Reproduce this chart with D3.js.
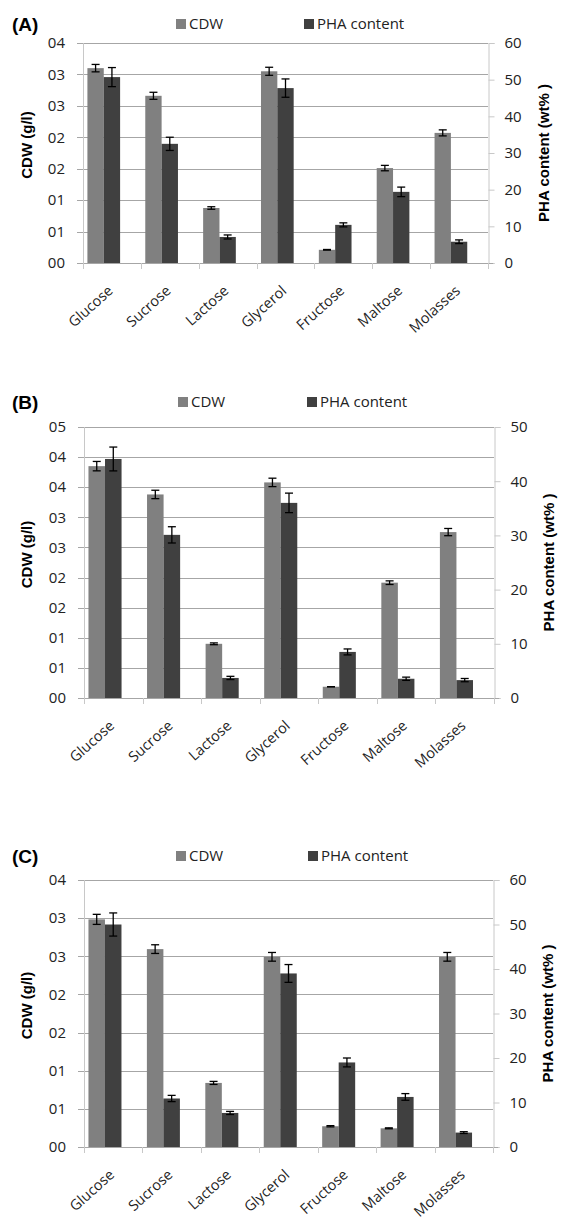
<!DOCTYPE html>
<html>
<head>
<meta charset="utf-8">
<script src="https://cdn.jsdelivr.net/npm/d3@7"></script>
<style>
  body { margin: 0; background: #fff; }
  svg { display: block; }
</style>
</head>
<body>
<script>
// categories (carbon sources)
var categories = ['Glucose', 'Sucrose', 'Lactose', 'Glycerol', 'Fructose', 'Maltose', 'Molasses'];
var seriesNames = ['CDW', 'PHA content'];

// panel A
var cdwA = [0.310, 0.266, 0.0875, 0.305, 0.021, 0.151, 0.207];
var cdwErrA = [0.0059, 0.0056, 0.002, 0.0064, 0.0005, 0.0043, 0.0048];
var phaA = [50.7, 32.5, 7.1, 47.7, 10.4, 19.4, 5.8];
var phaErrA = [2.6, 1.8, 0.55, 2.5, 0.55, 1.3, 0.5];
var leftTicksA = ['00', '01', '01', '02', '02', '03', '03', '04'];
var rightTicksA = [0, 10, 20, 30, 40, 50, 60];

// panel B
var cdwB = [0.385, 0.338, 0.09, 0.358, 0.0187, 0.1915, 0.2755];
var cdwErrB = [0.0078, 0.007, 0.0015, 0.007, 0, 0.003, 0.006];
var phaB = [44.1, 30.1, 3.7, 36.0, 8.5, 3.55, 3.3];
var phaErrB = [2.2, 1.5, 0.3, 1.8, 0.55, 0.3, 0.3];
var leftTicksB = ['00', '01', '01', '02', '02', '03', '03', '04', '04', '05'];
var rightTicksB = [0, 10, 20, 30, 40, 50];

// panel C
var cdwC = [0.2984, 0.2594, 0.084, 0.2493, 0.0272, 0.0245, 0.2493];
var cdwErrC = [0.0066, 0.0057, 0.002, 0.0057, 0.0008, 0.0006, 0.0057];
var phaC = [50.0, 10.9, 7.65, 39.0, 19.0, 11.25, 3.24];
var phaErrC = [2.6, 0.7, 0.35, 2.0, 1.0, 0.75, 0.2];
var leftTicksC = ['00', '01', '01', '02', '02', '03', '03', '04'];
var rightTicksC = [0, 10, 20, 30, 40, 50, 60];

var cdwStep = 0.05;
var colors = ['#808080', '#404040'];
var tickFont = '"Open Sans", sans-serif';

var svg = d3.select('body').append('svg')
    .attr('width', 563)
    .attr('height', 1224);

function drawPanel(p) {
    var g = svg.append('g');

    var x0 = d3.scaleBand().domain(categories).range([p.left, p.right]);
    // three slots per group, the third one is empty in the original sheet
    var x1 = d3.scaleBand().domain([0, 1, 2]).range([0, x0.bandwidth()]).paddingOuter(0.27);

    var yL = d3.scaleLinear()
        .domain([0, (p.leftTicks.length - 1) * cdwStep])
        .range([p.bottom, p.top]);
    var yR = d3.scaleLinear()
        .domain([0, d3.max(p.rightTicks)])
        .range([p.bottom, p.top]);

    var leftVals = p.leftTicks.map(function(d, i) { return i * cdwStep; });

    // gridlines + left ticks
    g.append('g')
        .selectAll('line')
        .data(leftVals)
        .join('line')
        .attr('x1', p.left - 6)
        .attr('x2', p.right)
        .attr('y1', function(d) { return Math.round(yL(d)) + 0.5; })
        .attr('y2', function(d) { return Math.round(yL(d)) + 0.5; })
        .attr('stroke', '#a6a6a6')
        .attr('stroke-width', 1);

    // left axis line
    g.append('line')
        .attr('x1', p.left + 0.5).attr('x2', p.left + 0.5)
        .attr('y1', p.top).attr('y2', p.bottom)
        .attr('stroke', '#c8c8c8');

    // right axis
    var rAxis = d3.axisRight(yR).tickValues(p.rightTicks).tickSize(6).tickPadding(10);
    var ra = g.append('g')
        .attr('transform', 'translate(' + (p.right + 0.5) + ',0)')
        .call(rAxis);
    ra.select('.domain').attr('stroke', '#c8c8c8');
    ra.selectAll('.tick line').attr('stroke', '#c8c8c8');
    ra.selectAll('.tick text')
        .attr('font-family', tickFont)
        .attr('font-size', 15)
        .attr('fill', '#222');

    // left tick labels
    g.append('g')
        .selectAll('text')
        .data(leftVals)
        .join('text')
        .attr('x', p.left - 18)
        .attr('y', function(d) { return yL(d); })
        .attr('dy', '0.35em')
        .attr('text-anchor', 'end')
        .attr('font-family', tickFont)
        .attr('font-size', 15)
        .attr('fill', '#222')
        .text(function(d, i) { return p.leftTicks[i]; });

    // bars
    var values = [p.cdw, p.pha];
    var errs = [p.cdwErr, p.phaErr];
    var scales = [yL, yR];

    seriesNames.forEach(function(s, si) {
        var sc = scales[si];
        g.append('g')
            .selectAll('rect')
            .data(categories)
            .join('rect')
            .attr('x', function(c) { return x0(c) + x1(si); })
            .attr('width', x1.bandwidth())
            .attr('y', function(c, i) { return sc(values[si][i]); })
            .attr('height', function(c, i) { return p.bottom - sc(values[si][i]); })
            .attr('fill', colors[si]);

        // error bars
        var eg = g.append('g').attr('stroke', '#000').attr('stroke-width', 1.3);
        categories.forEach(function(c, i) {
            var v = values[si][i], e = errs[si][i];
            var cx = x0(c) + x1(si) + x1.bandwidth() / 2;
            var y1 = sc(v + e), y2 = sc(v - e);
            eg.append('line').attr('x1', cx).attr('x2', cx).attr('y1', y1).attr('y2', y2);
            eg.append('line').attr('x1', cx - 4).attr('x2', cx + 4).attr('y1', y1).attr('y2', y1);
            eg.append('line').attr('x1', cx - 4).attr('x2', cx + 4).attr('y1', y2).attr('y2', y2);
        });
    });

    // x axis baseline
    g.append('line')
        .attr('x1', p.left - 6).attr('x2', p.right + 5)
        .attr('y1', p.bottom + 0.5).attr('y2', p.bottom + 0.5)
        .attr('stroke', '#a6a6a6');
    var bounds = categories.map(function(c) { return x0(c); }).concat([p.right]);
    g.append('g')
        .selectAll('line')
        .data(bounds)
        .join('line')
        .attr('x1', function(d) { return Math.round(d) + 0.5; })
        .attr('x2', function(d) { return Math.round(d) + 0.5; })
        .attr('y1', p.bottom)
        .attr('y2', p.bottom + 6)
        .attr('stroke', '#c8c8c8');

    // category labels
    g.append('g')
        .selectAll('text')
        .data(categories)
        .join('text')
        .attr('transform', function(c) {
            return 'translate(' + (x0(c) + x0.bandwidth() / 2 + 2) + ',' + (p.bottom + 29) + ') rotate(-42)';
        })
        .attr('text-anchor', 'end')
        .attr('font-family', tickFont)
        .attr('font-size', 14.5)
        .attr('fill', '#222')
        .text(function(c) { return c; });

    // axis titles
    g.append('text')
        .attr('transform', 'translate(' + p.leftTitleX + ',' + ((p.top + p.bottom) / 2 - 8) + ') rotate(-90)')
        .attr('text-anchor', 'middle')
        .attr('font-family', '"Liberation Sans", Arial, sans-serif')
        .attr('font-weight', 'bold')
        .attr('font-size', 15)
        .text('CDW (g/l)');
    g.append('text')
        .attr('transform', 'translate(' + p.rightTitleX + ',' + ((p.top + p.bottom) / 2) + ') rotate(-90)')
        .attr('text-anchor', 'middle')
        .attr('font-family', '"Liberation Sans", Arial, sans-serif')
        .attr('font-weight', 'bold')
        .attr('font-size', 15)
        .text('PHA content (wt% )');

    // panel letter
    g.append('text')
        .attr('x', 12)
        .attr('y', p.legendY + 7)
        .attr('font-family', '"Liberation Sans", Arial, sans-serif')
        .attr('font-weight', 'bold')
        .attr('font-size', 19)
        .text(p.label);

    // legend
    seriesNames.forEach(function(s, si) {
        var lx = p.legendX[si];
        g.append('rect')
            .attr('x', lx).attr('y', p.legendY - 5)
            .attr('width', 10).attr('height', 10)
            .attr('fill', colors[si]);
        g.append('text')
            .attr('x', lx + 13).attr('y', p.legendY)
            .attr('dy', '0.35em')
            .attr('font-family', tickFont)
            .attr('font-size', 15)
            .attr('fill', '#222')
            .text(s);
    });
}

drawPanel({
    label: '(A)', cdw: cdwA, cdwErr: cdwErrA, pha: phaA, phaErr: phaErrA,
    leftTicks: leftTicksA, rightTicks: rightTicksA,
    top: 43, bottom: 263, left: 83, right: 488,
    legendY: 24, legendX: [176, 304], leftTitleX: 32, rightTitleX: 549
});
drawPanel({
    label: '(B)', cdw: cdwB, cdwErr: cdwErrB, pha: phaB, phaErr: phaErrB,
    leftTicks: leftTicksB, rightTicks: rightTicksB,
    top: 427, bottom: 698, left: 84, right: 494,
    legendY: 402, legendX: [178, 307], leftTitleX: 32, rightTitleX: 554
});
drawPanel({
    label: '(C)', cdw: cdwC, cdwErr: cdwErrC, pha: phaC, phaErr: phaErrC,
    leftTicks: leftTicksC, rightTicks: rightTicksC,
    top: 880, bottom: 1147, left: 84, right: 493,
    legendY: 856, legendX: [176, 308], leftTitleX: 32, rightTitleX: 553
});
</script>
</body>
</html>
